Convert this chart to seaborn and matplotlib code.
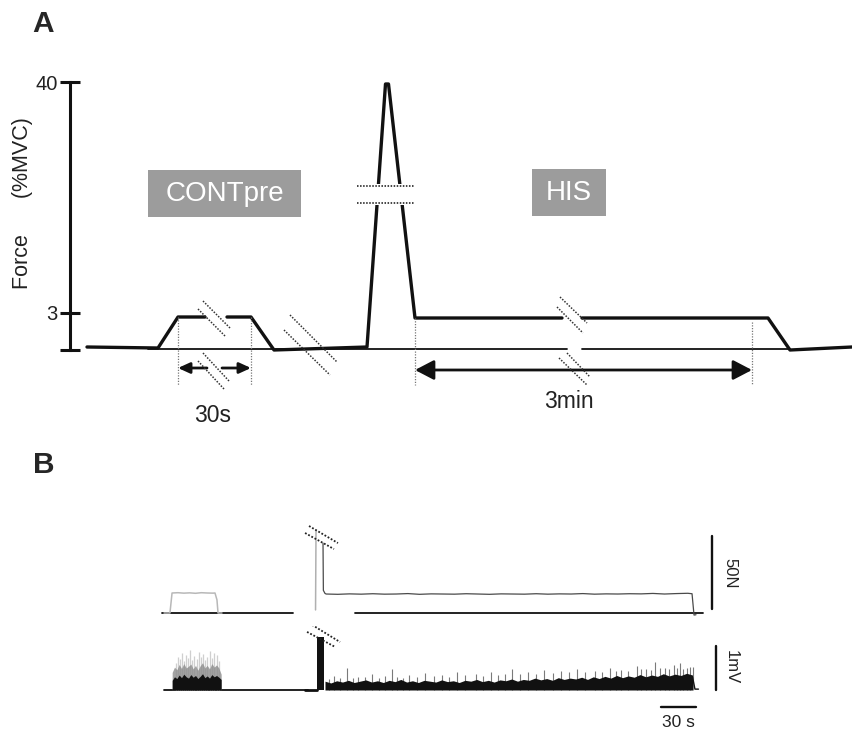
import numpy as np
import pandas as pd
import matplotlib
matplotlib.use("Agg")
import matplotlib.pyplot as plt
import seaborn as sns
from matplotlib.patches import Rectangle

# ---------------- Panel A : protocol schematic ----------------
# x: schematic time units, y: displayed force units (0 = rest)
a_cont_t = [87, 158, 178, 205]
a_cont_f = [2, 1, 32, 32]
a_mid_t = [227, 251, 274, 367, 385.5, 388.5, 415, 562]
a_mid_f = [32, 32, -1, 2, 265, 265, 31, 31]
a_his_t = [582, 768, 790, 852]
a_his_f = [31, 31, -1, 2]
a_ytick_pos = [-1, 36, 267]
a_ytick_labels = ["", "3", "40"]
a_box_labels = ["CONTpre", "HIS"]
a_dur_labels = ["30s", "3min"]

# ---------------- Panel B : recorded traces ----------------
# time in s, force in N, EMG in mV
b_cont_force_t = [12.0, 17.1, 18.9, 24, 29, 34, 39, 44, 49, 54, 55.7, 57.4, 58.3, 61.7]
b_cont_force_n = [0, 0, 13.7, 13.9, 13.6, 13.8, 13.5, 13.9, 13.7, 13.6, 13.7, 9.0, 0, 0]
b_spike_up_t = [141.9, 142.3]
b_spike_up_n = [2.1, 56.8]
b_spike_down_t = [148.3, 148.6, 150.0]
b_spike_down_n = [47.9, 15.5, 13.4]
b_his_force_t = [151, 161, 171, 181, 191, 201, 211, 221, 231, 241, 251, 261, 271, 281, 291, 301,
                 311, 321, 331, 341, 351, 361, 371, 381, 391, 401, 411, 421, 431, 441, 451, 461,
                 464.6, 466.3, 468.0]
b_his_force_n = [13.0, 12.8, 13.1, 12.9, 13.2, 12.9, 13.0, 13.3, 12.8, 13.1, 13.0, 12.9, 13.2, 13.0,
                 12.8, 13.1, 13.0, 12.9, 13.2, 12.9, 13.1, 13.0, 13.3, 12.9, 13.1, 13.0, 13.2, 13.1,
                 13.4, 13.0, 13.3, 13.5, 13.2, -1.4, -1.2]

b_cont_emg_t = [19, 21, 23, 25, 27, 29, 31, 33, 35, 37, 39, 41, 43, 45, 47, 49, 51, 53, 55, 57, 59, 61]
b_cont_emg_dark = [0.22, 0.30, 0.26, 0.34, 0.28, 0.36, 0.30, 0.27, 0.35, 0.29, 0.33, 0.26, 0.31, 0.37,
                   0.28, 0.32, 0.27, 0.35, 0.30, 0.33, 0.29, 0.24]
b_cont_emg_gray = [0.40, 0.52, 0.46, 0.58, 0.49, 0.60, 0.50, 0.54, 0.59, 0.48, 0.56, 0.45, 0.55, 0.62,
                   0.50, 0.56, 0.48, 0.60, 0.52, 0.57, 0.50, 0.36]
b_cont_spk_t = [22, 24, 26, 27.5, 29, 31, 32.5, 34, 36, 38, 40, 42, 44, 45.5, 47, 49, 51, 53, 55, 57, 59]
b_cont_spk_v = [0.62, 0.75, 0.70, 0.85, 0.66, 0.80, 0.72, 0.90, 0.68, 0.78, 0.70, 0.86, 0.74, 0.82,
                0.69, 0.76, 0.88, 0.73, 0.84, 0.80, 0.65]

b_emg_spike_t = [142.9, 149.1]
b_emg_spike_v = [1.21, 1.21]

b_his_emg_t = [150, 155, 160, 165, 170, 175, 180, 185, 190, 195, 200, 205, 210, 215, 220, 225, 230,
               235, 240, 245, 250, 255, 260, 265, 270, 275, 280, 285, 290, 295, 300, 305, 310, 315,
               320, 325, 330, 335, 340, 345, 350, 355, 360, 365, 370, 375, 380, 385, 390, 395, 400,
               405, 410, 415, 420, 425, 430, 435, 440, 445, 450, 455, 460, 465]
b_his_emg_v = [0.20, 0.16, 0.21, 0.18, 0.22, 0.17, 0.20, 0.23, 0.18, 0.21, 0.17, 0.22, 0.19, 0.24,
               0.18, 0.21, 0.17, 0.22, 0.20, 0.18, 0.23, 0.19, 0.21, 0.17, 0.22, 0.20, 0.24, 0.19,
               0.22, 0.18, 0.23, 0.21, 0.25, 0.20, 0.24, 0.22, 0.27, 0.23, 0.26, 0.22, 0.28, 0.24,
               0.27, 0.25, 0.29, 0.24, 0.30, 0.26, 0.31, 0.27, 0.33, 0.28, 0.32, 0.29, 0.35, 0.30,
               0.34, 0.31, 0.37, 0.32, 0.36, 0.33, 0.38, 0.34]
b_his_spk_t = [153, 158, 163, 169, 174, 178, 184, 190, 196, 201, 207, 212, 217, 222, 229, 236, 243,
               250, 256, 263, 270, 279, 285, 292, 298, 304, 310, 317, 324, 331, 338, 345, 352, 359,
               366, 373, 381, 387, 394, 399, 404, 410, 417, 421, 425, 429, 433, 437, 441, 445, 449,
               452, 454, 457, 460, 463, 465]
b_his_spk_v = [0.26, 0.32, 0.27, 0.50, 0.28, 0.30, 0.29, 0.36, 0.27, 0.31, 0.48, 0.30, 0.28, 0.33,
               0.30, 0.38, 0.31, 0.35, 0.30, 0.40, 0.33, 0.37, 0.32, 0.42, 0.34, 0.36, 0.48, 0.37,
               0.40, 0.36, 0.45, 0.39, 0.43, 0.40, 0.47, 0.41, 0.44, 0.42, 0.50, 0.43, 0.46, 0.44,
               0.55, 0.47, 0.48, 0.46, 0.64, 0.49, 0.50, 0.47, 0.56, 0.50, 0.61, 0.48, 0.49, 0.53,
               0.52]

# ---------------- figure ----------------
sns.set_theme(style="white")
plt.rcParams["font.family"] = ["Liberation Sans", "DejaVu Sans"]
W, H = 852, 732
fig = plt.figure(figsize=(W / 100, H / 100), dpi=100)
fig.patch.set_facecolor("white")


def px_axes(left, top, width, height):
    ax = fig.add_axes([left / W, 1 - (top + height) / H, width / W, height / H])
    ax.set_facecolor("none")
    return ax


def line(ax, x, y, **kw):
    sns.lineplot(x=x, y=y, ax=ax, sort=False, estimator=None, legend=False, **kw)


BLACK = "#111111"

# ===== Panel A =====
axA = px_axes(0, 60, 852, 380)
axA.set_xlim(0, 852)
axA.set_ylim(-91, 289)

thick = dict(color=BLACK, linewidth=2.4)
line(axA, a_cont_t, a_cont_f, **thick)
line(axA, a_mid_t, a_mid_f, **thick)
line(axA, a_his_t, a_his_f, **thick)

# thin resting reference line
for x0, x1 in [(148, 567), (582, 790)]:
    axA.plot([x0, x1], [0, 0], color=BLACK, lw=1.3, zorder=1)

# break on the peak
axA.add_patch(Rectangle((355, 144), 62, 21, facecolor="white", edgecolor="none", zorder=4))
for yv in (163, 146):
    axA.plot([357, 415], [yv, yv], color=BLACK, lw=1.1, ls=(0, (1, 1)), zorder=5)

# dotted vertical guides
for xg, y0 in [(178, 32), (251, 32), (415, 31), (752, 27)]:
    axA.plot([xg, xg], [y0, -36], color="#777777", lw=0.9, ls=(0, (1, 1.2)), zorder=2)

# break marks (pairs of dotted diagonals)
breaks = [
    ((203, 48), (230, 21), (198, 40), (226, 12)),
    ((203, -4), (229, -32), (198, -12), (224, -40)),
    ((290, 34), (337, -13), (284, 19), (330, -26)),
    ((560, 52), (587, 26), (557, 42), (583, 16)),
    ((567, -4), (590, -28), (559, -9), (587, -36)),
]
for p0, p1, q0, q1 in breaks:
    for a, b in ((p0, p1), (q0, q1)):
        axA.plot([a[0], b[0]], [a[1], b[1]], color="#333333", lw=1.1, ls=(0, (1, 1)), zorder=6)

# duration arrows
axA.annotate("", xy=(178, -19), xytext=(207, -19),
             arrowprops=dict(arrowstyle="-|>,head_length=0.7,head_width=0.32", lw=2,
                             color=BLACK, shrinkA=0, shrinkB=0, mutation_scale=10))
axA.annotate("", xy=(251, -19), xytext=(222, -19),
             arrowprops=dict(arrowstyle="-|>,head_length=0.7,head_width=0.32", lw=2,
                             color=BLACK, shrinkA=0, shrinkB=0, mutation_scale=10))
axA.annotate("", xy=(752, -21), xytext=(415, -21),
             arrowprops=dict(arrowstyle="<|-|>,head_length=1.15,head_width=0.6", lw=2,
                             color=BLACK, shrinkA=0, shrinkB=0, mutation_scale=10))
axA.text(213, -66, a_dur_labels[0], ha="center", va="center", fontsize=16.5, color="#222222")
axA.text(569, -53, a_dur_labels[1], ha="center", va="center", fontsize=16.5, color="#222222")

# grey condition boxes
BOXGRAY = "#9c9c9c"
axA.add_patch(Rectangle((148, 132), 153, 47, facecolor=BOXGRAY, edgecolor="none", zorder=3))
axA.add_patch(Rectangle((532, 133), 74, 47, facecolor=BOXGRAY, edgecolor="none", zorder=3))
axA.text(224.5, 155, a_box_labels[0], ha="center", va="center", fontsize=20, color="white", zorder=4)
axA.text(569, 156, a_box_labels[1], ha="center", va="center", fontsize=20, color="white", zorder=4)

# y axis
for s in ("top", "right", "bottom"):
    axA.spines[s].set_visible(False)
axA.spines["left"].set_position(("data", 70))
axA.spines["left"].set_bounds(-1, 267)
axA.spines["left"].set_linewidth(2.2)
axA.spines["left"].set_color(BLACK)
axA.set_yticks(a_ytick_pos)
axA.set_yticklabels(a_ytick_labels)
axA.set_xticks([])
axA.tick_params(axis="y", direction="inout", length=14.5, width=2.2, color=BLACK,
                labelsize=14.5, pad=1.5, left=True, labelcolor="#222222")
axA.set_xlabel("")
axA.set_ylabel("Force      (%MVC)", fontsize=15.5, color="#222222")
axA.yaxis.set_label_coords(33 / 852, (145.5 + 91) / 380)

fig.text(32 / W, 1 - 32 / H, "A", fontsize=21.5, fontweight="bold", ha="left", va="baseline")
fig.text(33 / W, 1 - 473 / H, "B", fontsize=21.5, fontweight="bold", ha="left", va="baseline")

# ===== Panel B: force =====
axF = px_axes(150, 613 - 77 * 1.46, 630, 85 * 1.46)
axF.set_xlim(0, 540)
axF.set_ylim(-8, 77)
axF.axis("off")
for x0, x1 in [(10.3, 122.6), (175.7, 474.0)]:
    axF.plot([x0, x1], [0, 0], color=BLACK, lw=1.3, zorder=1)
line(axF, b_cont_force_t, b_cont_force_n, color="#b8b8b8", linewidth=1.1)
line(axF, b_spike_up_t, b_spike_up_n, color="#b0b0b0", linewidth=1.1)
line(axF, b_spike_down_t + b_his_force_t, b_spike_down_n + b_his_force_n, color="#4a4a4a", linewidth=0.9)
for a, b in (((136.3, 59.6), (161.1, 47.9)), ((132.9, 54.8), (157.7, 43.8))):
    axF.plot([a[0], b[0]], [a[1], b[1]], color="#222222", lw=1.3, ls=(0, (1, 1)), zorder=5)
# 50N scale bar
axF.plot([481.7, 481.7], [2.7, 52.7], color=BLACK, lw=1.7, clip_on=False)
axF.text(497.1, 27.4, "50N", rotation=270, ha="center", va="center", fontsize=12, color="#222222")

# ===== Panel B: EMG =====
axE = px_axes(150, 690 - 1.45 * 44, 630, 2.4 * 44)
axE.set_xlim(0, 540)
axE.set_ylim(-0.95, 1.45)
axE.axis("off")
axE.plot([12, 135.4], [0, 0], color=BLACK, lw=1.3, zorder=1)
axE.plot([133, 143], [0, 0], color=BLACK, lw=2.0, zorder=1)
axE.vlines(b_cont_spk_t, 0, b_cont_spk_v, color="#cfcfcf", lw=0.9, zorder=2)
axE.fill_between(b_cont_emg_t, 0, b_cont_emg_gray, color="#8c8c8c", lw=0, alpha=0.8, zorder=2)
axE.fill_between(b_cont_emg_t, 0, b_cont_emg_dark, color=BLACK, lw=0, zorder=3)
axE.fill_between(b_emg_spike_t, 0, b_emg_spike_v, color=BLACK, lw=0, zorder=3)
axE.vlines(b_his_spk_t, 0, b_his_spk_v, color="#7a7a7a", lw=0.8, zorder=2)
axE.fill_between(b_his_emg_t, 0, b_his_emg_v, color=BLACK, lw=0, zorder=3)
line(axE, [465, 467.1, 470.1], [0.3, 0.02, 0.02], color=BLACK, linewidth=1.0)
for a, b in (((138.9, 1.48), (162.9, 1.09)), ((134.6, 1.32), (158.6, 0.98))):
    axE.plot([a[0], b[0]], [a[1], b[1]], color="#222222", lw=1.3, ls=(0, (1, 1)), zorder=5)
# 1mV and 30 s scale bars
axE.plot([485.1, 485.1], [0, 1], color=BLACK, lw=1.7, clip_on=False)
axE.text(498, 0.52, "1mV", rotation=270, ha="center", va="center", fontsize=12, color="#222222")
axE.plot([438, 468], [-0.386, -0.386], color=BLACK, lw=1.7, clip_on=False)
axE.text(453, -0.73, "30 s", ha="center", va="center", fontsize=12.5, color="#222222", clip_on=False)

fig.savefig("out.png", dpi=100, facecolor="white")
